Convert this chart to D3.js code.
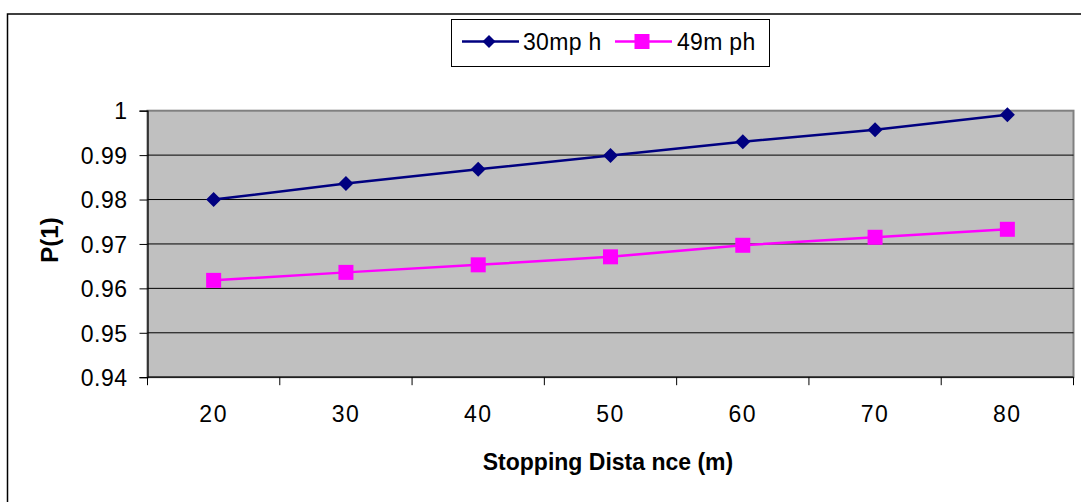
<!DOCTYPE html>
<html><head><meta charset="utf-8">
<script src="https://cdn.jsdelivr.net/npm/d3@7"></script>
<style>body{margin:0;background:#fff;}svg{display:block;}text{font-family:Arial,"Liberation Sans",sans-serif;}</style>
</head><body>
<svg id="c" width="1081" height="502"></svg>
<script>
const categories = ["20","30","40","50","60","70","80"];
const series30 = [0.9800, 0.9836, 0.9868, 0.9899, 0.9930, 0.9957, 0.9991];
const series49 = [0.9618, 0.9636, 0.9653, 0.9671, 0.9697, 0.9715, 0.9733];
const seriesNames = ["30mp h", "49m ph"];
const yTicks = [0.94, 0.95, 0.96, 0.97, 0.98, 0.99, 1];
const yTickLabels = ["0.94","0.95","0.96","0.97","0.98","0.99","1"];
const xTickLabels = ["20","30","40","50","60","70","80"];

const svg = d3.select("#c");
const L = 147.5, R = 1073.5, T = 110.7, B = 377.2;
const x = d3.scaleBand().domain(categories).range([L, R]);
const y = d3.scaleLinear().domain([0.94, 1]).range([B, T]);
const FS = 23;

// outer border
svg.append("rect").attr("x", 7.5).attr("y", 14).attr("width", 1100).attr("height", 520)
  .attr("fill", "#fff").attr("stroke", "#000").attr("stroke-width", 1.5);

// plot area
svg.append("rect").attr("x", L).attr("y", T).attr("width", R - L).attr("height", B - T)
  .attr("fill", "#c0c0c0").attr("stroke", "#808080").attr("stroke-width", 2);

// gridlines
svg.append("g").selectAll("line").data(yTicks.slice(1, -1)).join("line")
  .attr("x1", L).attr("x2", R).attr("y1", d => y(d)).attr("y2", d => y(d))
  .attr("stroke", "#000").attr("stroke-width", 1);

// y axis
const yAxis = d3.axisLeft(y).tickValues(yTicks).tickSize(8).tickFormat((d, i) => yTickLabels[i]);
const gy = svg.append("g").attr("transform", `translate(${L},0)`).call(yAxis);
gy.attr("font-size", null).attr("font-family", null);
gy.select(".domain").attr("stroke", "#000").attr("stroke-width", 1.2);
gy.selectAll(".tick line").attr("stroke", "#000");
gy.selectAll(".tick text").style("font-size", FS + "px").attr("fill", "#000").attr("x", -20).attr("dy", "0.36em")
  .style("letter-spacing", "0.5px");

// x axis with ticks at band boundaries
const gx = svg.append("g").attr("transform", `translate(0,${B})`);
gx.append("line").attr("x1", L).attr("x2", R).attr("stroke", "#000").attr("stroke-width", 1.2);
const bounds = categories.map(c => x(c)).concat([R]);
gx.selectAll("line.tk").data(bounds).join("line").attr("class", "tk")
  .attr("x1", d => d).attr("x2", d => d).attr("y1", 0).attr("y2", 8).attr("stroke", "#000");
gx.selectAll("text").data(categories).join("text")
  .attr("x", d => x(d) + x.bandwidth() / 2).attr("y", 45)
  .attr("text-anchor", "middle").style("font-size", FS + "px").attr("fill", "#000")
  .style("letter-spacing", "1.5px")
  .text((d, i) => xTickLabels[i]);

// axis titles
svg.append("text").attr("x", 608).attr("y", 470).attr("text-anchor", "middle")
  .style("font-size", "23px").attr("font-weight", "bold").text("Stopping Dista nce (m)");
svg.append("text").attr("transform", "translate(58,240) rotate(-90)").attr("text-anchor", "middle")
  .style("font-size", "24px").attr("font-weight", "bold").text("P(1)");

// lines
const cx = d => x(d) + x.bandwidth() / 2;
const line = d3.line().x((d, i) => cx(categories[i])).y(d => y(d));
svg.append("path").datum(series30).attr("d", line).attr("fill", "none").attr("stroke", "#000080").attr("stroke-width", 2.5);
svg.append("path").datum(series49).attr("d", line).attr("fill", "none").attr("stroke", "#ff00ff").attr("stroke-width", 2.5);

const diamond = s => `M0,${-s}L${s},0L0,${s}L${-s},0Z`;
svg.append("g").selectAll("path").data(series30).join("path")
  .attr("d", diamond(7.5)).attr("fill", "#000080")
  .attr("transform", (d, i) => `translate(${cx(categories[i])},${y(d)})`);
svg.append("g").selectAll("rect").data(series49).join("rect")
  .attr("x", (d, i) => cx(categories[i]) - 7.5).attr("y", d => y(d) - 7.5)
  .attr("width", 15).attr("height", 15).attr("fill", "#ff00ff");

// legend
const lg = svg.append("g");
lg.append("rect").attr("x", 451.5).attr("y", 19.5).attr("width", 318).attr("height", 47)
  .attr("fill", "#fff").attr("stroke", "#000").attr("stroke-width", 1);
lg.append("line").attr("x1", 462).attr("x2", 519).attr("y1", 41.5).attr("y2", 41.5).attr("stroke", "#000080").attr("stroke-width", 2.5);
lg.append("path").attr("d", diamond(6.5)).attr("fill", "#000080").attr("transform", "translate(489,41.5)");
lg.append("text").attr("x", 523).attr("y", 49.5).style("font-size", "23px").style("letter-spacing", "0.3px").text(seriesNames[0]);
lg.append("line").attr("x1", 615).attr("x2", 672).attr("y1", 41.5).attr("y2", 41.5).attr("stroke", "#ff00ff").attr("stroke-width", 2.5);
lg.append("rect").attr("x", 634.5).attr("y", 34).attr("width", 15).attr("height", 15).attr("fill", "#ff00ff");
lg.append("text").attr("x", 677).attr("y", 49.5).style("font-size", "23px").style("letter-spacing", "0.3px").text(seriesNames[1]);
</script>
</body></html>
